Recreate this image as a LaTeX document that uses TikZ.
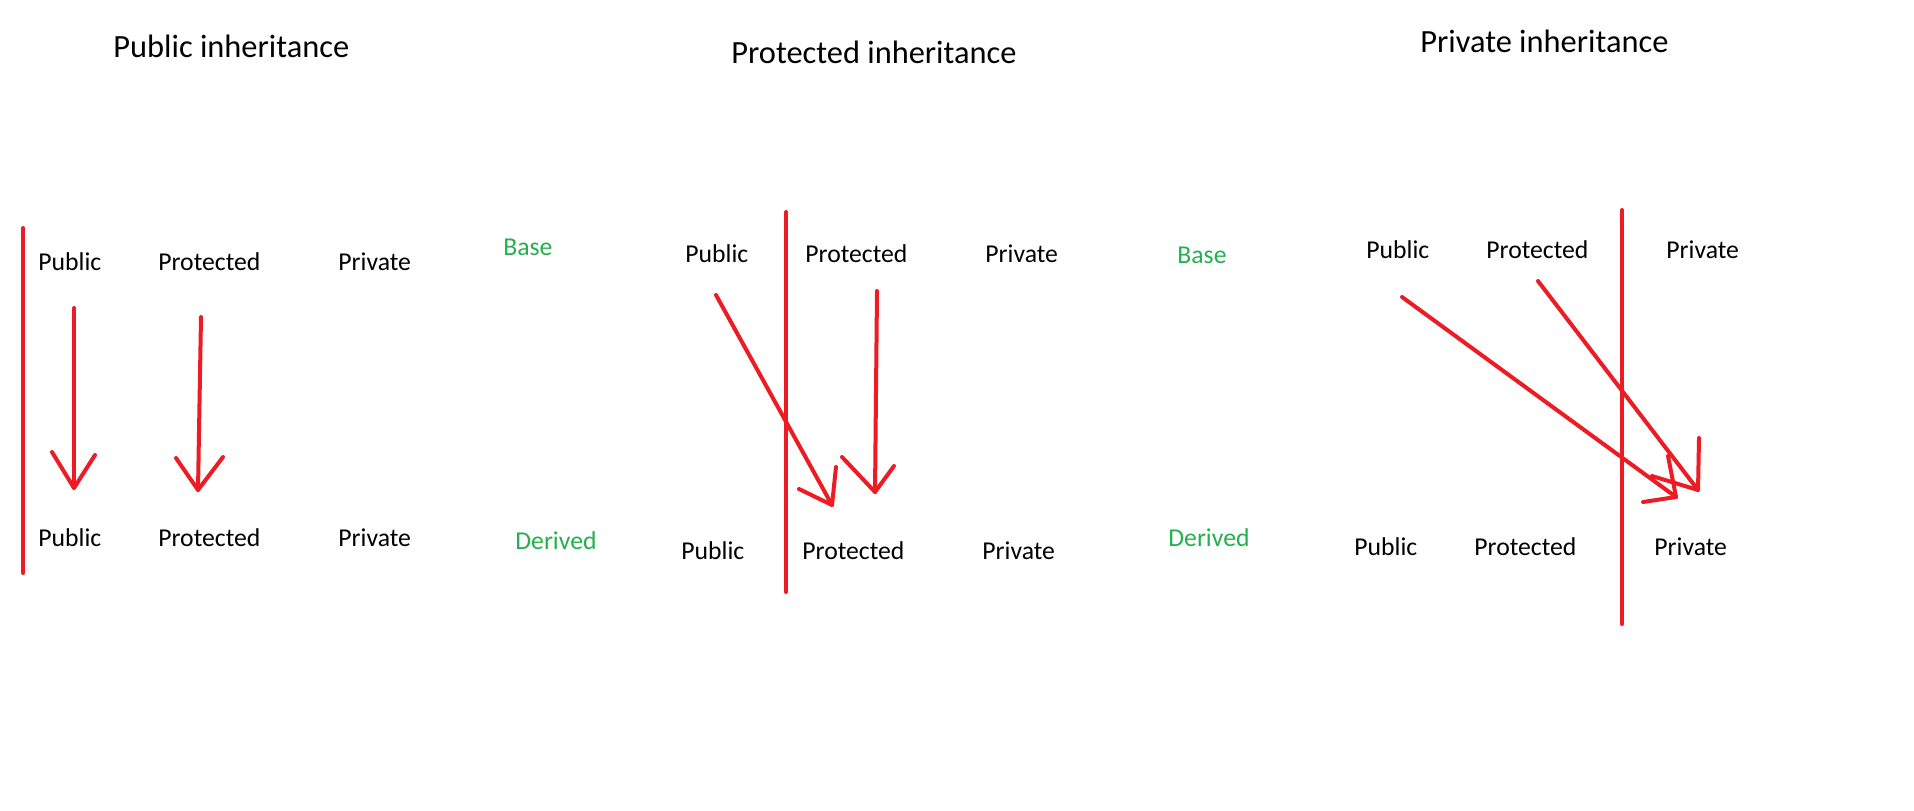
\documentclass[tikz,border=0pt]{standalone}
\usepackage{fontspec}
\setmainfont{Carlito}
\definecolor{pred}{RGB}{237,28,36}
\definecolor{pgreen}{RGB}{34,177,76}
\begin{document}
\begin{tikzpicture}[x=0.5pt,y=-0.5pt,
  txt/.style={inner sep=0pt, anchor=base west},
  ttl/.style={txt, font=\fontsize{16.2}{19}\selectfont},
  lbl/.style={txt, font=\fontsize{12.85}{15}\selectfont},
  grn/.style={text=pgreen},
  pen/.style={draw=pred, line width=2pt, line cap=round, line join=round}]
\useasboundingbox (0,0) rectangle (1914,810);
\fill[white] (0,0) rectangle (1914,810);

% ---------- Panel 1: Public inheritance ----------
\node[ttl] (t1) at (113,57) {Public inheritance};
\node[lbl] (b1pub) at (38,270) {Public};
\node[lbl] (b1pro) at (158,270) {Protected};
\node[lbl] (b1pri) at (338,270) {Private};
\node[lbl,grn] (b1base) at (503,255) {Base};
\node[lbl] (d1pub) at (38,546) {Public};
\node[lbl] (d1pro) at (158,546) {Protected};
\node[lbl] (d1pri) at (338,546) {Private};
\node[lbl,grn] (d1der) at (515,549) {Derived};

\coordinate (v1t) at (23,228);
\coordinate (v1b) at (23,573);
\draw[pen] (v1t) -- (v1b);

\coordinate (p1s) at (74,308);
\coordinate (p1e) at (74,488);
\coordinate (p1l) at (52,452);
\coordinate (p1r) at (95,455);
\draw[pen] (p1s) -- (p1e);
\draw[pen] (p1l) -- (p1e) -- (p1r);

\coordinate (q1s) at (201,317);
\coordinate (q1e) at (198,490);
\coordinate (q1l) at (176,458);
\coordinate (q1r) at (223,457);
\draw[pen] (q1s) -- (q1e);
\draw[pen] (q1l) -- (q1e) -- (q1r);

% ---------- Panel 2: Protected inheritance ----------
\node[ttl] (t2) at (731,63) {Protected inheritance};
\node[lbl] (b2pub) at (685,262) {Public};
\node[lbl] (b2pro) at (805,262) {Protected};
\node[lbl] (b2pri) at (985,262) {Private};
\node[lbl,grn] (b2base) at (1177,263) {Base};
\node[lbl] (d2pub) at (681,559) {Public};
\node[lbl] (d2pro) at (802,559) {Protected};
\node[lbl] (d2pri) at (982,559) {Private};
\node[lbl,grn] (d2der) at (1168,546) {Derived};

\coordinate (v2t) at (786,212);
\coordinate (v2b) at (786,592);
\draw[pen] (v2t) -- (v2b);

\coordinate (p2s) at (716,295);
\coordinate (p2e) at (832,505);
\coordinate (p2l) at (799,489);
\coordinate (p2r) at (836,467);
\draw[pen] (p2s) -- (p2e);
\draw[pen] (p2l) -- (p2e) -- (p2r);

\coordinate (q2s) at (877,291);
\coordinate (q2e) at (875,492);
\coordinate (q2l) at (842,457);
\coordinate (q2r) at (894,466);
\draw[pen] (q2s) -- (q2e);
\draw[pen] (q2l) -- (q2e) -- (q2r);

% ---------- Panel 3: Private inheritance ----------
\node[ttl] (t3) at (1420,52) {Private inheritance};
\node[lbl] (b3pub) at (1366,258) {Public};
\node[lbl] (b3pro) at (1486,258) {Protected};
\node[lbl] (b3pri) at (1666,258) {Private};
\node[lbl] (d3pub) at (1354,555) {Public};
\node[lbl] (d3pro) at (1474,555) {Protected};
\node[lbl] (d3pri) at (1654,555) {Private};

\coordinate (v3t) at (1622,210);
\coordinate (v3b) at (1622,624);
\draw[pen] (v3t) -- (v3b);

\coordinate (p3s) at (1402,297);
\coordinate (p3e) at (1676,497);
\coordinate (p3l) at (1668,456);
\coordinate (p3r) at (1643,502);
\draw[pen] (p3s) -- (p3e);
\draw[pen] (p3l) -- (p3e) -- (p3r);

\coordinate (q3s) at (1538,281);
\coordinate (q3e) at (1698,490);
\coordinate (q3l) at (1699,438);
\coordinate (q3r) at (1652,476);
\draw[pen] (q3s) -- (q3e);
\draw[pen] (q3l) -- (q3e) -- (q3r);
\end{tikzpicture}
\end{document}
